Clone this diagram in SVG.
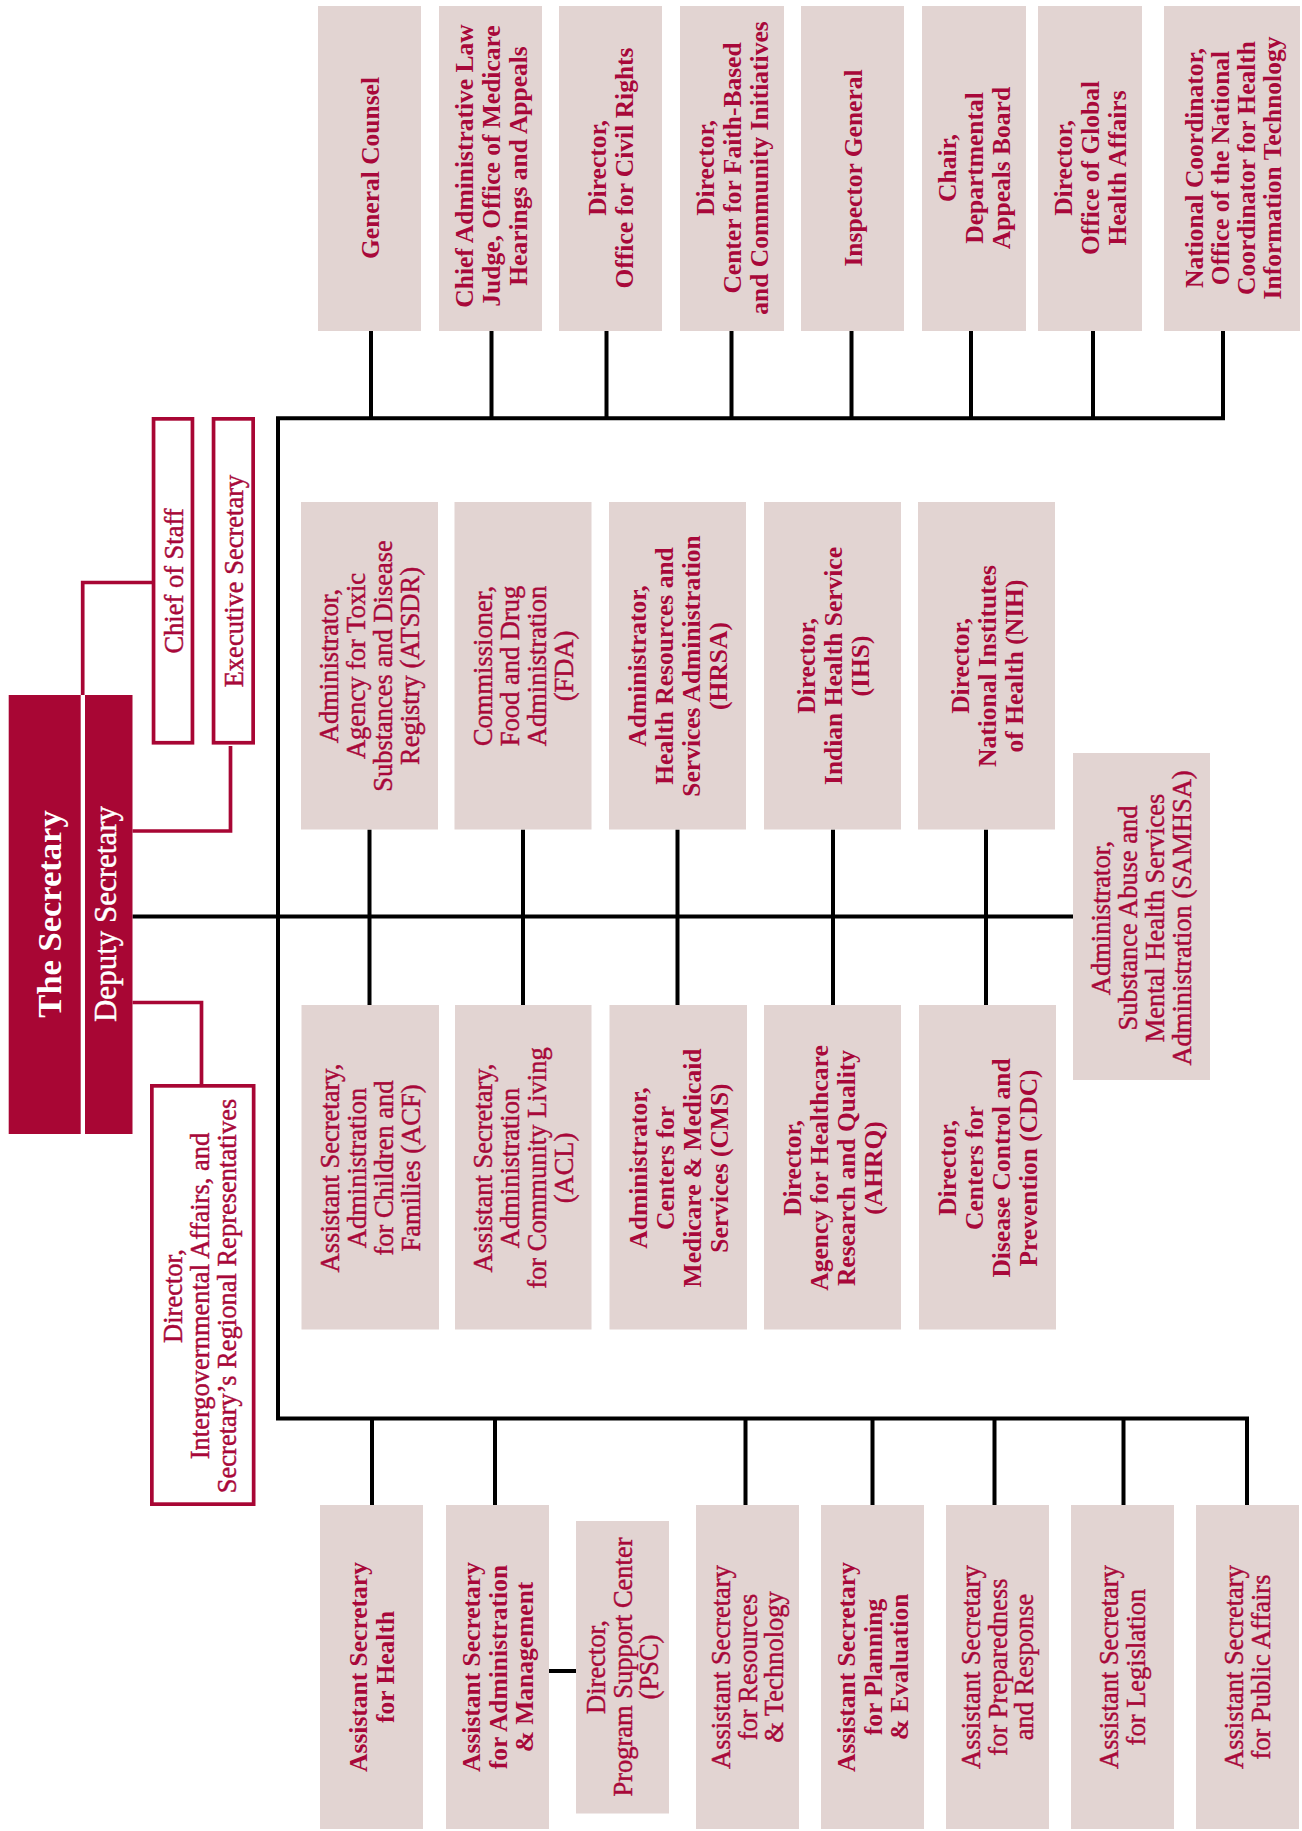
<svg xmlns="http://www.w3.org/2000/svg" width="1302" height="1831" viewBox="0 0 1302 1831">
<style>
.bx{fill:#E2D4D2}
.ob{fill:#fff;stroke:#A80634;stroke-width:3.7}
.sec{fill:#A80634}
.t{font-family:"Liberation Serif","Times New Roman",serif;fill:#A8083A;text-anchor:middle}
.b{font-weight:bold;font-size:25.5px}
.r{font-size:26.5px;stroke:#A8083A;stroke-width:0.45px}
.w{font-family:"Liberation Serif","Times New Roman",serif;fill:#fff;text-anchor:middle}
.k{stroke:#000;stroke-width:4;fill:none}
.m{stroke:#A80634;stroke-width:3.7;fill:none}
</style>
<rect width="1302" height="1831" fill="#fff"/>

<g id="connectors">
  <path class="k" d="M1223 331V418.3H278V1418.6H1247V1505"/>
  <path class="k" d="M371 331V418.3M491.5 331V418.3M606.5 331V418.3M731.5 331V418.3M851.5 331V418.3M971 331V418.3M1093 331V418.3"/>
  <path class="k" d="M132.5 916.6H1073"/>
  <path class="k" d="M369.5 829.5V1005M523 829.5V1005M677.5 829.5V1005M833 829.5V1005M986 829.5V1005"/>
  <path class="k" d="M372 1418.6V1505M495 1418.6V1505M745.5 1418.6V1505M872.5 1418.6V1505M994.5 1418.6V1505M1123.5 1418.6V1505"/>
  <path class="k" d="M549 1671H576"/>
  <path class="m" d="M82.7 695V582.5H153.5"/>
  <path class="m" d="M132.5 831H230.5V746"/>
  <path class="m" d="M132.5 1002.5H201.5V1085"/>
</g>

<g id="secretary">
  <rect class="sec" x="8.7" y="695" width="72" height="439"/>
  <text class="w" font-size="34.5" font-weight="bold" transform="translate(45 914) rotate(-90)"><tspan x="0" y="16">The Secretary</tspan></text>
</g>
<g id="deputy">
  <rect class="sec" x="85" y="695" width="47.5" height="439"/>
  <text class="w" font-size="31" transform="translate(109 914) rotate(-90)" stroke="#fff" stroke-width="0.4"><tspan x="0" y="7">Deputy Secretary</tspan></text>
</g>
<g id="chief-of-staff">
  <rect class="ob" x="153.55" y="418.85" width="38.9" height="323.9"/>
  <text class="t r" transform="translate(173 581) rotate(-90)"><tspan x="0" y="9.5">Chief of Staff</tspan></text>
</g>
<g id="exec-sec">
  <rect class="ob" x="213.55" y="418.85" width="39.6" height="323.9"/>
  <text class="t r" transform="translate(233.4 581) rotate(-90)"><tspan x="0" y="9.5">Executive Secretary</tspan></text>
</g>
<g id="intergov">
  <rect class="ob" x="151.85" y="1085.85" width="101.8" height="418.3"/>
  <text class="t r" transform="translate(200 1296) rotate(-90)"><tspan x="0" y="-18">Director,</tspan><tspan x="0" y="9">Intergovernmental Affairs, and</tspan><tspan x="0" y="36">Secretary’s Regional Representatives</tspan></text>
</g>

<!-- Top row -->
<g id="gc"><rect class="bx" x="318" y="6" width="103" height="325"/>
  <text class="t b" transform="translate(369.5 168) rotate(-90)"><tspan x="0" y="9">General Counsel</tspan></text></g>
<g id="calj"><rect class="bx" x="439" y="6" width="103" height="325"/>
  <text class="t b" transform="translate(490.5 166) rotate(-90)"><tspan x="0" y="-18">Chief Administrative Law</tspan><tspan x="0" y="9">Judge, Office of Medicare</tspan><tspan x="0" y="36">Hearings and Appeals</tspan></text></g>
<g id="ocr"><rect class="bx" x="559" y="6" width="103" height="325"/>
  <text class="t b" transform="translate(610.5 168) rotate(-90)"><tspan x="0" y="-4.5">Director,</tspan><tspan x="0" y="22.5">Office for Civil Rights</tspan></text></g>
<g id="faith"><rect class="bx" x="680" y="6" width="104" height="325"/>
  <text class="t b" transform="translate(732 168) rotate(-90)"><tspan x="0" y="-18">Director,</tspan><tspan x="0" y="9">Center for Faith-Based</tspan><tspan x="0" y="36">and Community Initiatives</tspan></text></g>
<g id="ig"><rect class="bx" x="801" y="6" width="103" height="325"/>
  <text class="t b" transform="translate(852.5 168) rotate(-90)"><tspan x="0" y="9">Inspector General</tspan></text></g>
<g id="dab"><rect class="bx" x="922" y="6" width="104" height="325"/>
  <text class="t b" transform="translate(974 168) rotate(-90)"><tspan x="0" y="-18">Chair,</tspan><tspan x="0" y="9">Departmental</tspan><tspan x="0" y="36">Appeals Board</tspan></text></g>
<g id="global"><rect class="bx" x="1038" y="6" width="104" height="325"/>
  <text class="t b" transform="translate(1090 168) rotate(-90)"><tspan x="0" y="-18">Director,</tspan><tspan x="0" y="9">Office of Global</tspan><tspan x="0" y="36">Health Affairs</tspan></text></g>
<g id="onc"><rect class="bx" x="1164" y="6" width="136" height="325"/>
  <text class="t b" font-size="24.5" transform="translate(1233 168) rotate(-90)"><tspan x="0" y="-30.5">National Coordinator,</tspan><tspan x="0" y="-4.2">Office of the National</tspan><tspan x="0" y="22.1">Coordinator for Health</tspan><tspan x="0" y="48.4">Information Technology</tspan></text></g>

<!-- Middle upper row -->
<g id="atsdr"><rect class="bx" x="301" y="502" width="137" height="327.5"/>
  <text class="t r" transform="translate(369.5 666) rotate(-90)"><tspan x="0" y="-31.5">Administrator,</tspan><tspan x="0" y="-4.5">Agency for Toxic</tspan><tspan x="0" y="22.5">Substances and Disease</tspan><tspan x="0" y="49.5">Registry (ATSDR)</tspan></text></g>
<g id="fda"><rect class="bx" x="454.5" y="502" width="137" height="327.5"/>
  <text class="t r" transform="translate(523 666) rotate(-90)"><tspan x="0" y="-31.5">Commissioner,</tspan><tspan x="0" y="-4.5">Food and Drug</tspan><tspan x="0" y="22.5">Administration</tspan><tspan x="0" y="49.5">(FDA)</tspan></text></g>
<g id="hrsa"><rect class="bx" x="609" y="502" width="137" height="327.5"/>
  <text class="t b" transform="translate(677.5 666) rotate(-90)"><tspan x="0" y="-31.5">Administrator,</tspan><tspan x="0" y="-4.5">Health Resources and</tspan><tspan x="0" y="22.5">Services Administration</tspan><tspan x="0" y="49.5">(HRSA)</tspan></text></g>
<g id="ihs"><rect class="bx" x="764" y="502" width="137" height="327.5"/>
  <text class="t b" transform="translate(832.5 666) rotate(-90)"><tspan x="0" y="-18">Director,</tspan><tspan x="0" y="9">Indian Health Service</tspan><tspan x="0" y="36">(IHS)</tspan></text></g>
<g id="nih"><rect class="bx" x="918" y="502" width="137" height="327.5"/>
  <text class="t b" transform="translate(986.5 666) rotate(-90)"><tspan x="0" y="-18">Director,</tspan><tspan x="0" y="9">National Institutes</tspan><tspan x="0" y="36">of Health (NIH)</tspan></text></g>

<g id="samhsa"><rect class="bx" x="1073" y="753" width="137" height="327"/>
  <text class="t r" transform="translate(1141.5 918) rotate(-90)"><tspan x="0" y="-31.5">Administrator,</tspan><tspan x="0" y="-4.5">Substance Abuse and</tspan><tspan x="0" y="22.5">Mental Health Services</tspan><tspan x="0" y="49.5">Administration (SAMHSA)</tspan></text></g>

<!-- Middle lower row -->
<g id="acf"><rect class="bx" x="301.5" y="1005" width="137.5" height="324.5"/>
  <text class="t r" transform="translate(370 1168) rotate(-90)"><tspan x="0" y="-31.5">Assistant Secretary,</tspan><tspan x="0" y="-4.5">Administration</tspan><tspan x="0" y="22.5">for Children and</tspan><tspan x="0" y="49.5">Families (ACF)</tspan></text></g>
<g id="acl"><rect class="bx" x="455" y="1005" width="136.5" height="324.5"/>
  <text class="t r" transform="translate(523 1168) rotate(-90)"><tspan x="0" y="-31.5">Assistant Secretary,</tspan><tspan x="0" y="-4.5">Administration</tspan><tspan x="0" y="22.5">for Community Living</tspan><tspan x="0" y="49.5">(ACL)</tspan></text></g>
<g id="cms"><rect class="bx" x="609.5" y="1005" width="137.5" height="324.5"/>
  <text class="t b" transform="translate(678 1168) rotate(-90)"><tspan x="0" y="-31.5">Administrator,</tspan><tspan x="0" y="-4.5">Centers for</tspan><tspan x="0" y="22.5">Medicare &amp; Medicaid</tspan><tspan x="0" y="49.5">Services (CMS)</tspan></text></g>
<g id="ahrq"><rect class="bx" x="764" y="1005" width="137" height="324.5"/>
  <text class="t b" transform="translate(832.5 1168) rotate(-90)"><tspan x="0" y="-31.5">Director,</tspan><tspan x="0" y="-4.5">Agency for Healthcare</tspan><tspan x="0" y="22.5">Research and Quality</tspan><tspan x="0" y="49.5">(AHRQ)</tspan></text></g>
<g id="cdc"><rect class="bx" x="919" y="1005" width="137" height="324.5"/>
  <text class="t b" transform="translate(987.5 1168) rotate(-90)"><tspan x="0" y="-31.5">Director,</tspan><tspan x="0" y="-4.5">Centers for</tspan><tspan x="0" y="22.5">Disease Control and</tspan><tspan x="0" y="49.5">Prevention (CDC)</tspan></text></g>

<!-- Bottom row -->
<g id="ash"><rect class="bx" x="320" y="1505" width="103" height="324"/>
  <text class="t b" transform="translate(371.5 1667) rotate(-90)"><tspan x="0" y="-4.2">Assistant Secretary</tspan><tspan x="0" y="22.3">for Health</tspan></text></g>
<g id="asam"><rect class="bx" x="446" y="1505" width="103" height="324"/>
  <text class="t b" transform="translate(497.5 1667) rotate(-90)"><tspan x="0" y="-17.5">Assistant Secretary</tspan><tspan x="0" y="9">for Administration</tspan><tspan x="0" y="35.5">&amp; Management</tspan></text></g>
<g id="psc"><rect class="bx" x="576" y="1521" width="93" height="292.5"/>
  <text class="t r" transform="translate(622.5 1667) rotate(-90)"><tspan x="0" y="-17.5">Director,</tspan><tspan x="0" y="9">Program Support Center</tspan><tspan x="0" y="35.5">(PSC)</tspan></text></g>
<g id="asrt"><rect class="bx" x="696" y="1505" width="103" height="324"/>
  <text class="t r" transform="translate(747.5 1667) rotate(-90)"><tspan x="0" y="-17.5">Assistant Secretary</tspan><tspan x="0" y="9">for Resources</tspan><tspan x="0" y="35.5">&amp; Technology</tspan></text></g>
<g id="aspe"><rect class="bx" x="821" y="1505" width="103" height="324"/>
  <text class="t b" transform="translate(872.5 1667) rotate(-90)"><tspan x="0" y="-17.5">Assistant Secretary</tspan><tspan x="0" y="9">for Planning</tspan><tspan x="0" y="35.5">&amp; Evaluation</tspan></text></g>
<g id="aspr"><rect class="bx" x="946" y="1505" width="103" height="324"/>
  <text class="t r" transform="translate(997.5 1667) rotate(-90)"><tspan x="0" y="-17.5">Assistant Secretary</tspan><tspan x="0" y="9">for Preparedness</tspan><tspan x="0" y="35.5">and Response</tspan></text></g>
<g id="asl"><rect class="bx" x="1071" y="1505" width="103" height="324"/>
  <text class="t r" transform="translate(1122.5 1667) rotate(-90)"><tspan x="0" y="-4.2">Assistant Secretary</tspan><tspan x="0" y="22.3">for Legislation</tspan></text></g>
<g id="aspa"><rect class="bx" x="1196" y="1505" width="103" height="324"/>
  <text class="t r" transform="translate(1247.5 1667) rotate(-90)"><tspan x="0" y="-4.2">Assistant Secretary</tspan><tspan x="0" y="22.3">for Public Affairs</tspan></text></g>
</svg>
